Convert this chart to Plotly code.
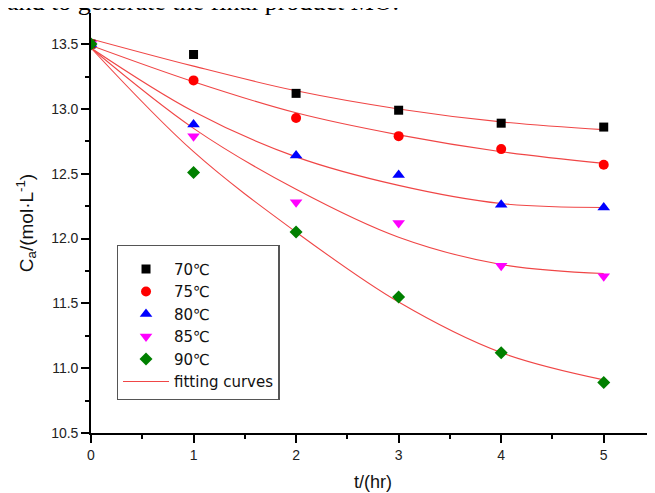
import plotly.graph_objects as go

# ---- data ----
t_points = [0, 1, 2, 3, 4, 5]
series_names = ["70℃", "75℃", "80℃", "85℃", "90℃"]
c_70 = [13.50, 13.42, 13.12, 12.99, 12.89, 12.86]
c_75 = [13.50, 13.22, 12.93, 12.79, 12.69, 12.57]
c_80 = [13.50, 12.88, 12.64, 12.49, 12.26, 12.24]
c_85 = [13.50, 12.79, 12.28, 12.12, 11.79, 11.71]
c_90 = [13.50, 12.51, 12.05, 11.55, 11.12, 10.89]

# fitted curves
t_fit = [0, 1, 2, 3, 4, 5]
fit_70 = [13.54, 13.33, 13.14, 13.00, 12.90, 12.84]
fit_75 = [13.49, 13.21, 12.97, 12.80, 12.67, 12.58]
fit_80 = [13.47, 12.98, 12.63, 12.41, 12.27, 12.24]
fit_85 = [13.47, 12.85, 12.38, 12.01, 11.80, 11.73]
fit_90 = [13.47, 12.67, 12.05, 11.51, 11.12, 10.91]

x_ticks = [0, 1, 2, 3, 4, 5]
y_ticks = [10.5, 11.0, 11.5, 12.0, 12.5, 13.0, 13.5]

series = [c_70, c_75, c_80, c_85, c_90]
fits = [fit_70, fit_75, fit_80, fit_85, fit_90]
symbols = ["square", "circle", "triangle-up", "triangle-down", "diamond"]
colors = ["#000000", "#FF0000", "#0000FF", "#FF00FF", "#008000"]
sizes = [9, 10, 11, 11, 10]

SANS = "Liberation Sans, Arial, sans-serif"

fig = go.Figure()

for i, f in enumerate(fits):
    fig.add_trace(go.Scatter(
        x=t_fit, y=f, mode="lines",
        line=dict(color="rgb(240,70,70)", width=1.1, shape="spline", smoothing=1.0),
        name="fitting curves", showlegend=(i == 0), legendrank=1000,
        hoverinfo="skip"))

for i, s in enumerate(series):
    fig.add_trace(go.Scatter(
        x=t_points, y=s, mode="markers",
        marker=dict(symbol=symbols[i], color=colors[i], size=sizes[i], line=dict(width=0)),
        name=series_names[i], legendrank=i + 1))

axis_font = dict(family=SANS, size=14, color="#222")

# page body has an 8px margin, so the figure is laid out 8px smaller
fig.update_layout(
    width=647, height=485,
    margin=dict(l=83, r=0, t=5, b=60, autoexpand=False),
    paper_bgcolor="white", plot_bgcolor="white",
    showlegend=True,
    legend=dict(
        x=0.0456, y=0.4476, xanchor="left", yanchor="top",
        bgcolor="white", bordercolor="#555", borderwidth=1.3,
        font=dict(family="DejaVu Sans, sans-serif", size=15, color="#111"),
        title=dict(text=" ", font=dict(size=5)),
        tracegroupgap=0, itemwidth=46,
    ),
    xaxis=dict(
        range=[0, 5.5], tickvals=x_ticks, ticktext=[str(v) for v in x_ticks],
        showgrid=False, zeroline=False, showline=True, linecolor="black", linewidth=1.6,
        ticks="outside", ticklen=8, tickwidth=1.6, tickcolor="black",
        minor=dict(dtick=0.5, ticks="outside", ticklen=4, tickwidth=1.6, tickcolor="black", showgrid=False),
        tickfont=axis_font,
        title=dict(text="t/(hr)", font=dict(family=SANS, size=18, color="#111"), standoff=14),
    ),
    yaxis=dict(
        range=[10.5, 13.74], tickvals=y_ticks, ticktext=[f"{v:.1f}" for v in y_ticks],
        showgrid=False, zeroline=False, showline=True, linecolor="black", linewidth=1.6,
        ticks="outside", ticklen=8, tickwidth=1.6, tickcolor="black",
        minor=dict(dtick=0.25, tick0=10.5, ticks="outside", ticklen=4, tickwidth=1.6, tickcolor="black", showgrid=False),
        tickfont=axis_font,
        title=dict(text="C<sub>a</sub>/(mol·L<sup>-1</sup>)", font=dict(family=SANS, size=19, color="#111"), standoff=13),
    ),
    annotations=[dict(
        text="and to generate the final product MO.",
        xref="paper", yref="paper", x=-86 / 564, y=1, xanchor="left", yanchor="bottom",
        yshift=-5, showarrow=False,
        font=dict(family="Liberation Serif, Times New Roman, serif", size=26, color="black"),
    )],
)

fig.write_html("out.html")
